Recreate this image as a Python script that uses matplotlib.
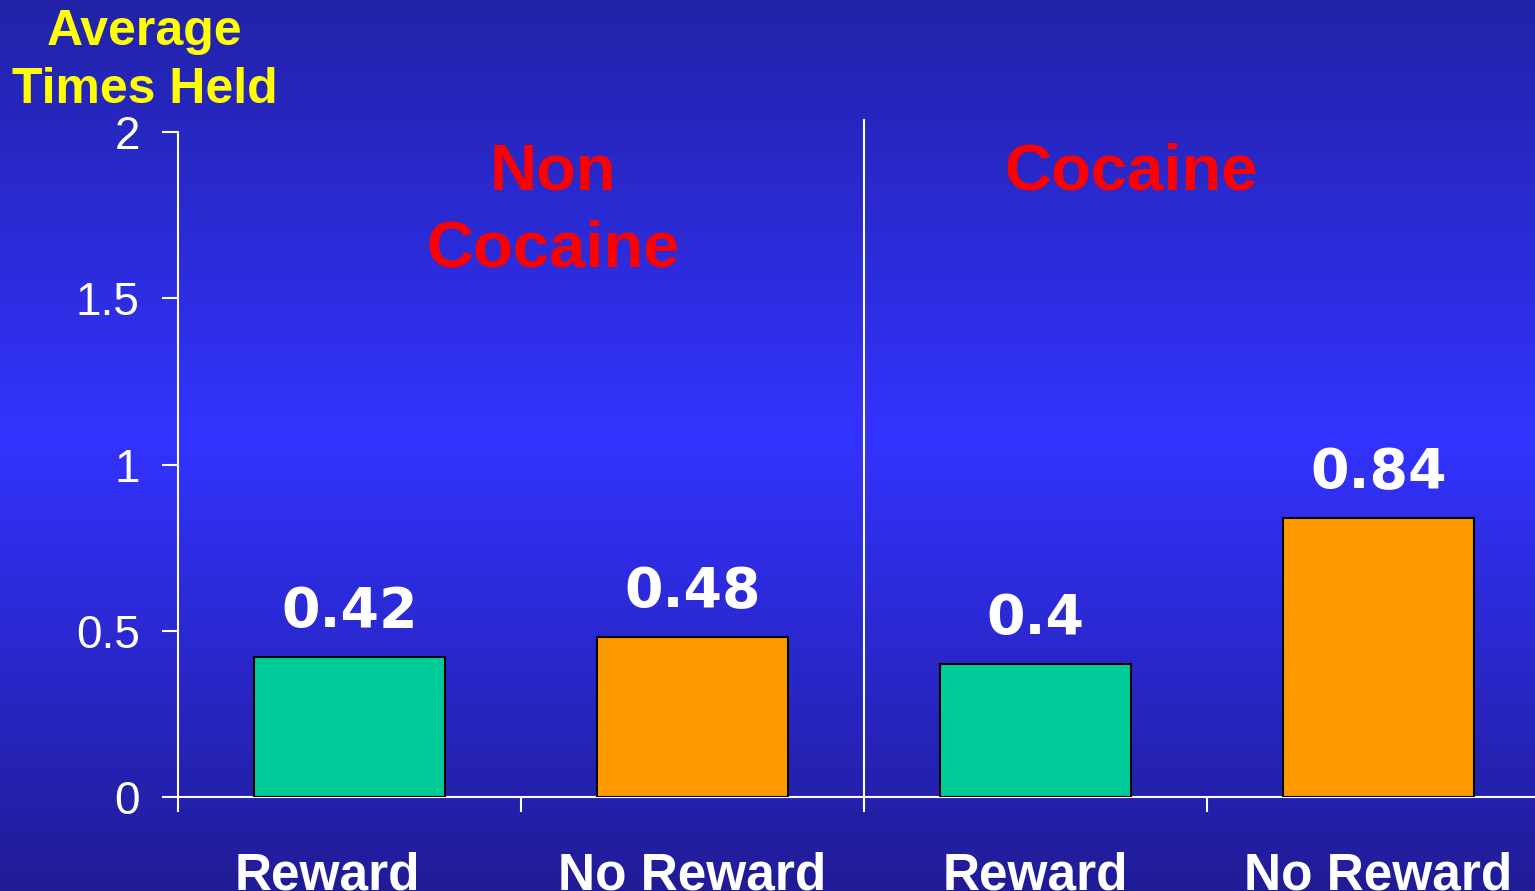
import matplotlib

matplotlib.use("Agg")

import matplotlib.pyplot as plt
import matplotlib.transforms as mtransforms
import numpy as np

categories = ["Reward", "No Reward", "Reward", "No Reward"]
values = [0.42, 0.48, 0.40, 0.84]
value_labels = ["0.42", "0.48", "0.4", "0.84"]
bar_colors = ["#00CC99", "#FF9900", "#00CC99", "#FF9900"]
y_ticks = [0, 0.5, 1, 1.5, 2]
y_tick_labels = ["0", "0.5", "1", "1.5", "2"]
group_labels = ["Non\nCocaine", "Cocaine"]
y_title = "Average\nTimes Held"

W, H = 1535, 891
plt.rcParams["font.family"] = ["DejaVu Sans"]

fig = plt.figure(figsize=(W / 100, H / 100), dpi=100)

# background gradient, dark at the edges and bright blue in the middle
bg = fig.add_axes([0, 0, 1, 1], zorder=-10)
rows = np.linspace(0, 1, H)
stops = [0.0, 0.49, 1.0]
grad = np.stack([
    np.interp(rows, stops, [34, 51, 32]),
    np.interp(rows, stops, [34, 51, 28]),
    np.interp(rows, stops, [168, 255, 150]),
], axis=1)[:, None, :] / 255
bg.imshow(grad, aspect="auto", extent=[0, 1, 0, 1])
bg.set_axis_off()

x0, y0, ytop = 178, 797, 132
slot = 343
ax = fig.add_axes([x0 / W, (H - y0) / H, 1 - x0 / W, (y0 - ytop) / H])
ax.set_facecolor("none")
x = np.arange(len(categories))
ax.bar(x, values, width=0.555, color=bar_colors, edgecolor="black", linewidth=1.5, zorder=3)
ax.set_xlim(-0.5, -0.5 + (W - x0) / slot)
ax.set_ylim(0, 2)

for side in ("top", "right"):
    ax.spines[side].set_visible(False)
for side in ("left", "bottom"):
    ax.spines[side].set_color("white")
    ax.spines[side].set_linewidth(1.5)

ax.set_yticks(y_ticks, y_tick_labels, fontfamily="Liberation Sans", fontsize=33)
ax.tick_params(axis="y", colors="white", length=11.5, width=1.5, pad=16)

ax.set_xticks(x, categories, fontweight="bold", fontsize=37, fontfamily="Liberation Sans")
ax.tick_params(axis="x", which="major", length=0, pad=39, labelcolor="white")
ax.set_xticks([-0.5, 0.5, 1.5, 2.5], minor=True)
ax.tick_params(axis="x", which="minor", length=11, width=1.5, color="white")

# the first label sits a bit left of its bar in the original
first = ax.get_xticklabels()[0]
first.set_transform(first.get_transform() + mtransforms.ScaledTranslation(-22 / 100, 0, fig.dpi_scale_trans))

# divider between the two groups
ax.axvline(1.5, ymin=0, ymax=(y0 - 120) / (y0 - ytop), color="white", linewidth=1.5, clip_on=False)

for xi, v, lbl in zip(x, values, value_labels):
    ax.annotate(lbl, (xi, v), xytext=(0, 21.6), textcoords="offset points",
                ha="center", va="baseline", fontsize=40, fontweight="bold", color="white")

fig.text(145 / W, 1 - 9 / H, y_title, ha="center", va="top", color="#FFFF00",
         fontsize=36, fontweight="bold", fontfamily="Liberation Sans", linespacing=1.33)
fig.text(553 / W, 1 - 143 / H, group_labels[0], ha="center", va="top", color="#FF0000",
         fontsize=47, fontweight="bold", fontfamily="Liberation Sans", linespacing=1.35)
fig.text(1131 / W, 1 - 143 / H, group_labels[1], ha="center", va="top", color="#FF0000",
         fontsize=47, fontweight="bold", fontfamily="Liberation Sans")

fig.savefig("out.png", dpi=100)
